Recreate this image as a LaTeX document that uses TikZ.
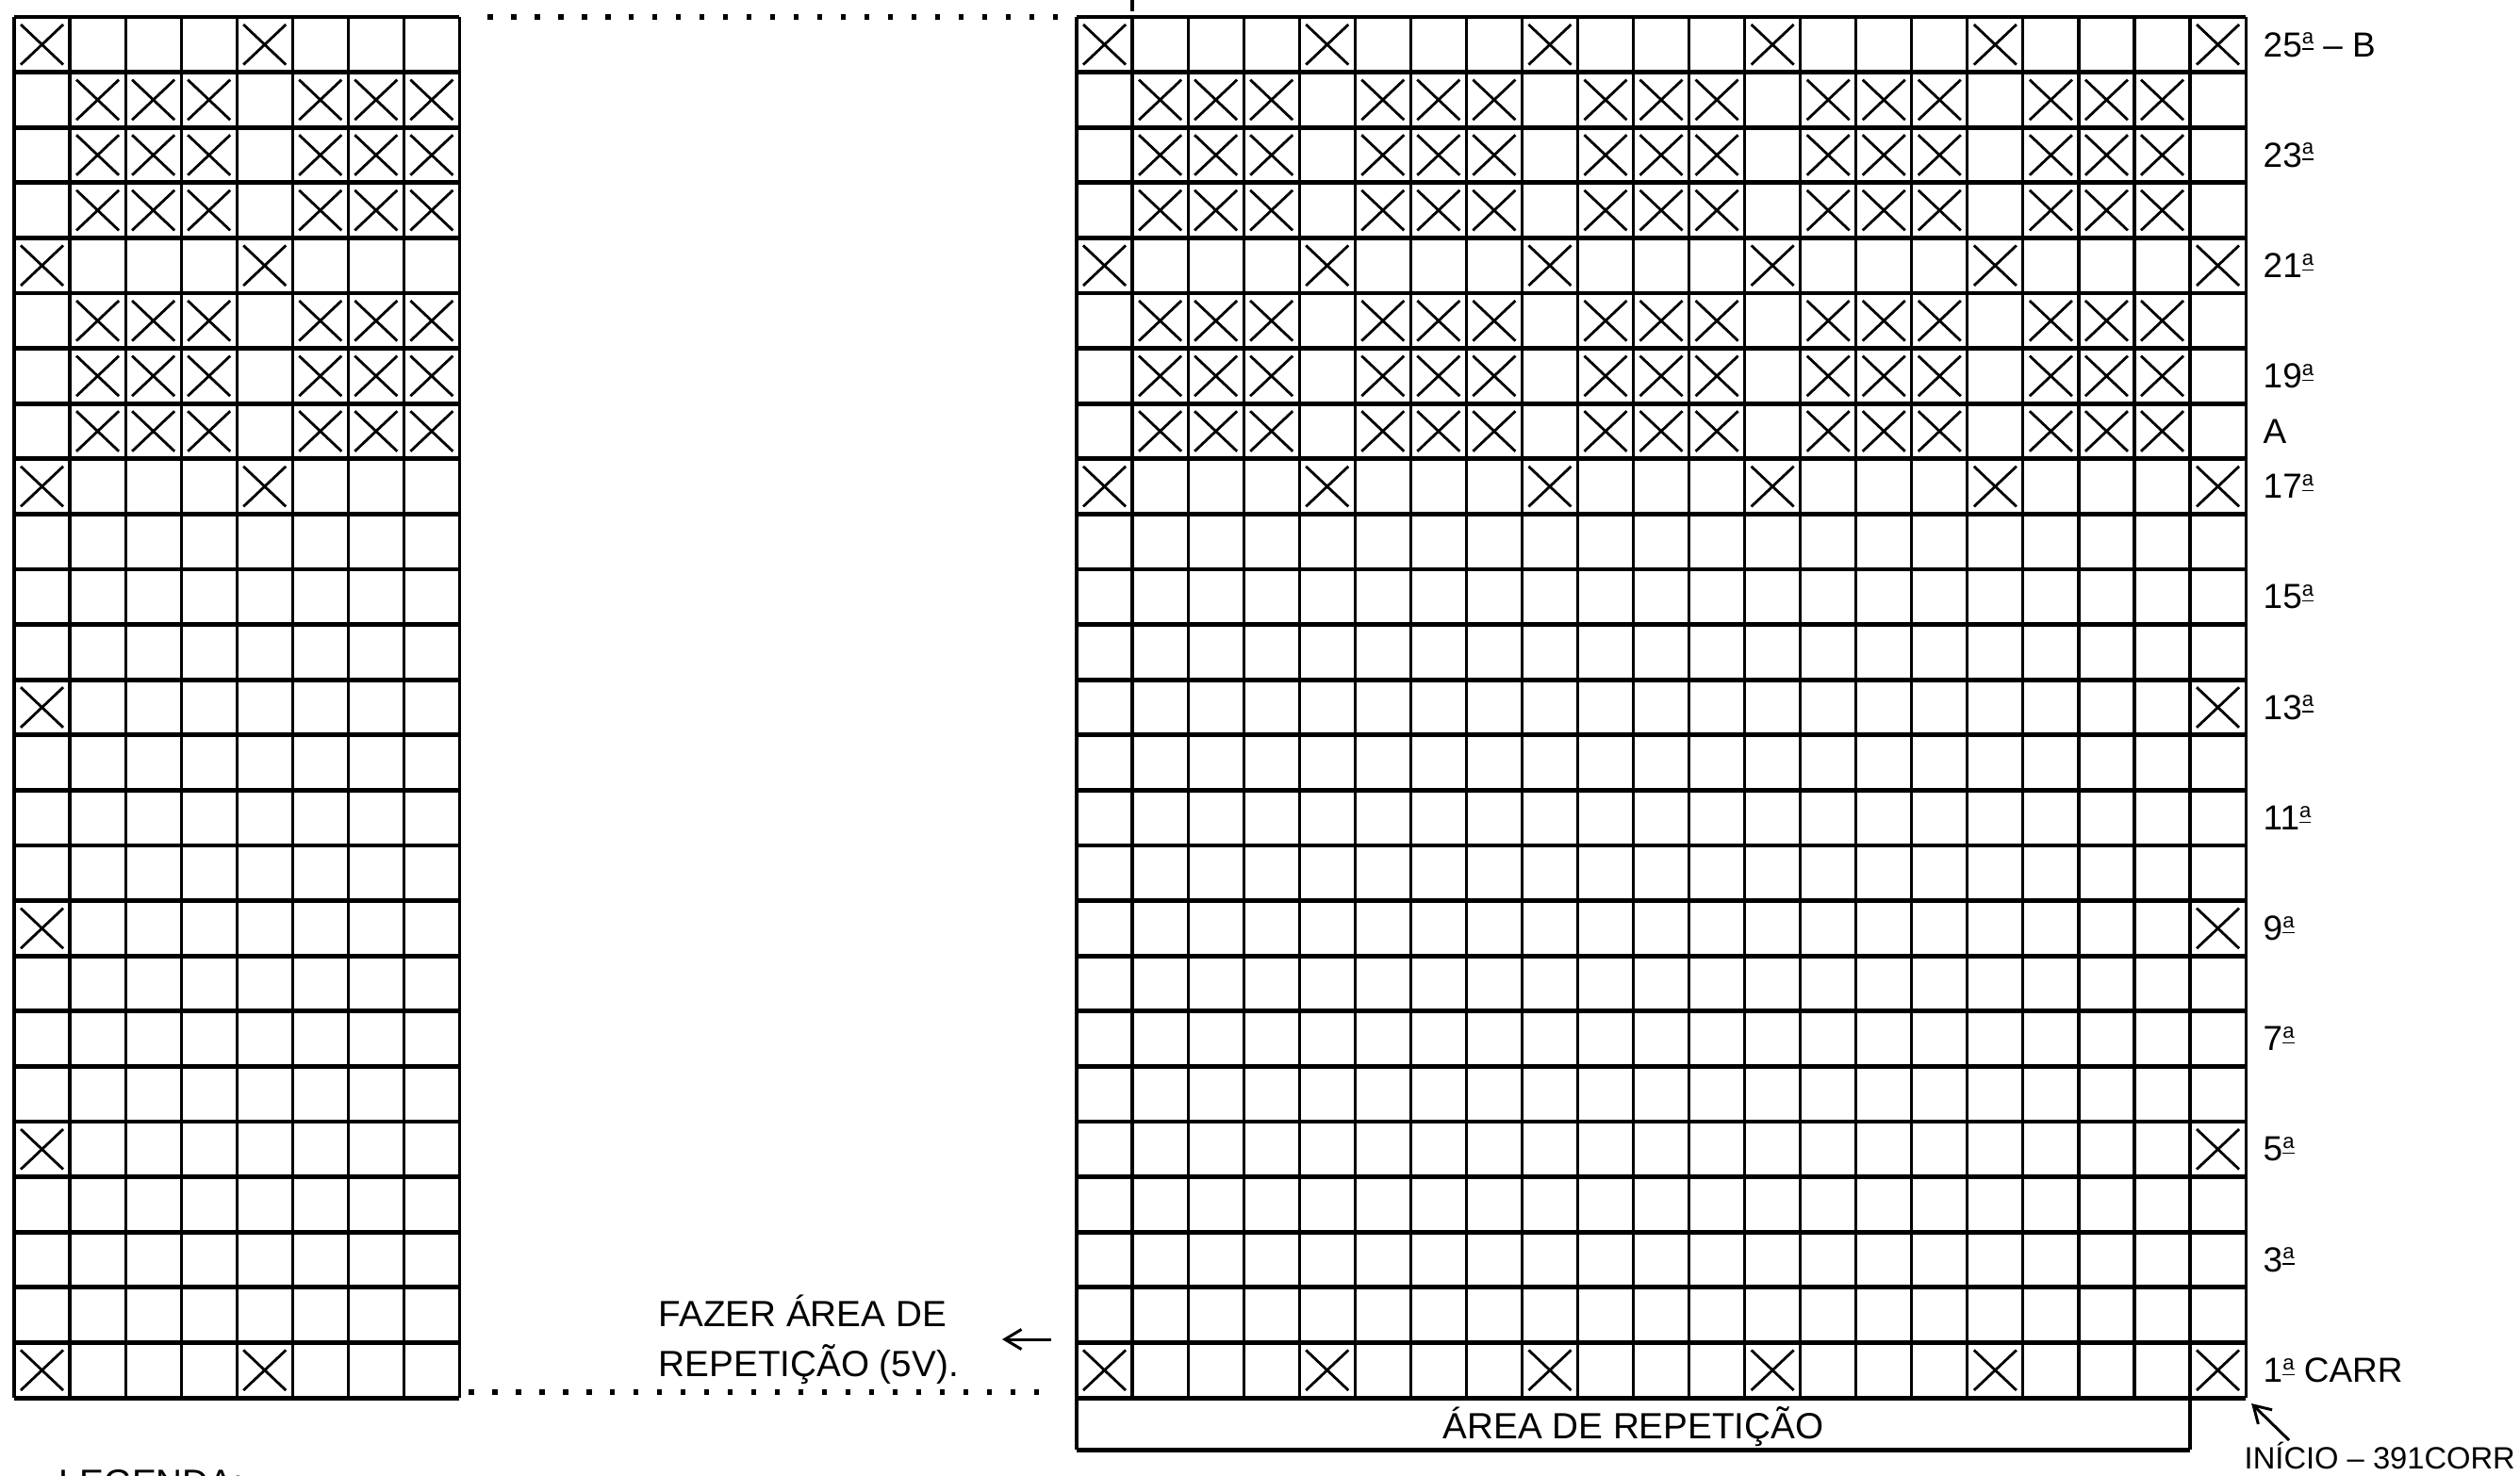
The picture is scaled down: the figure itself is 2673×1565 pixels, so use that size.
\documentclass[tikz,border=0pt]{standalone}
\usepackage{fontspec}
\setmainfont{Liberation Sans}
\usetikzlibrary{arrows.meta}
\usetikzlibrary{math}
\usetikzlibrary{positioning}

\tikzset{
  hline/.style={line width=1.4pt},
  vline/.style={line width=0.9pt},
  cruz/.style={line width=0.8pt},
  pontos/.style={line width=1.5pt, dash pattern=on 1.5pt off 5.6pt},
  rotulo/.style={inner sep=0pt, font=\fontsize{10.5}{12}\selectfont},
  texto/.style={inner sep=0pt, font=\fontsize{11}{15}\selectfont},
  seta/.style={line width=0.85pt, -{Straight Barb[length=5pt,width=6pt,line width=0.85pt]}},
}

% ordinal mark, small a with a bar under it
\newcommand{\ord}{\raisebox{3.8pt}{\fontsize{6.3}{6}\selectfont\underline{a}}}

% X in column #2, row #3 of the grid that starts at x=#1
\newcommand{\marca}[3]{%
  \draw[cruz] ({#1+(#2-1)*\cw+\ix},{\yt+(25-#3)*\rh+\iy}) -- ({#1+#2*\cw-\ix},{\yt+(26-#3)*\rh-\iy})
              ({#1+(#2-1)*\cw+\ix},{\yt+(26-#3)*\rh-\iy}) -- ({#1+#2*\cw-\ix},{\yt+(25-#3)*\rh+\iy});}

\begin{document}
\begin{tikzpicture}[x=0.01cm,y=-0.01cm]
\tikzmath{\cw=59.05; \rh=58.6; \yt=18; \yb=\yt+25*\rh; \xa=15; \xb=1142; \ix=7; \iy=8;}
\useasboundingbox (0,0) rectangle (2673,1565);

% left part of the chart
\foreach \c in {0,...,8} \draw[vline] ({\xa+\c*\cw},\yt) -- ({\xa+\c*\cw},\yb);
\foreach \r in {0,...,25} \draw[hline] (\xa,{\yt+\r*\rh}) -- ({\xa+8*\cw},{\yt+\r*\rh});
\foreach \r in {25,21,17,1} \foreach \c in {1,5} \marca{\xa}{\c}{\r};
\foreach \r in {24,23,22,20,19,18} \foreach \c in {2,3,4,6,7,8} \marca{\xa}{\c}{\r};
\foreach \r in {13,9,5} \marca{\xa}{1}{\r};

% right part of the chart
\foreach \c in {0,...,21} \draw[vline] ({\xb+\c*\cw},\yt) -- ({\xb+\c*\cw},\yb);
\foreach \r in {0,...,25} \draw[hline] (\xb,{\yt+\r*\rh}) -- ({\xb+21*\cw},{\yt+\r*\rh});
\foreach \r in {25,21,17,1} \foreach \c in {1,5,...,21} \marca{\xb}{\c}{\r};
\foreach \r in {24,23,22,20,19,18}
  \foreach \c in {2,3,4,6,7,8,10,11,12,14,15,16,18,19,20} \marca{\xb}{\c}{\r};
\foreach \r in {13,9,5} \marca{\xb}{21}{\r};

\draw[vline] ({\xb+\cw},0) -- ({\xb+\cw},12);

% dotted joins
\draw[pontos] ({\xa+8*\cw+30},\yt) -- ({\xb-15},\yt);
\draw[pontos] ({\xa+8*\cw+10},{\yb-6}) -- ({\xb-25},{\yb-6});

% repeat area
\draw[vline] (\xb,\yb) -- (\xb,1538);
\draw[vline] ({\xb+20*\cw},\yb) -- ({\xb+20*\cw},1538);
\draw[hline] (\xb,1538) -- ({\xb+20*\cw},1538);
\node[texto] (area) at ({\xb+10*\cw},1514) {ÁREA DE REPETIÇÃO};

% row labels
\node[rotulo, anchor=west] (r25) at (2400,{\yt+0.5*\rh}) {25\ord{} – B};
\foreach \r in {23,21,19,17,15,13,11,9,7,5,3}
  \node[rotulo, anchor=west] (r\r) at (2400,{\yt+(25.5-\r)*\rh}) {\r\ord};
\node[rotulo, anchor=west] (rA) at (2400,{\yt+7.5*\rh}) {A};
\node[rotulo, anchor=west] (r1) at (2400,{\yt+24.5*\rh}) {1\ord{} CARR};

\node[rotulo, anchor=base west, font=\fontsize{9.3}{11}\selectfont] (inicio) at (2380,1558) {INÍCIO – 391CORR};
\coordinate (canto) at ({\xb+21*\cw+6},{\yb+6});
\coordinate (cauda) at (2428,1528);
\draw[seta] (cauda) -- (canto);

\node[texto, anchor=west, align=left] (fazer) at (698,1421) {FAZER ÁREA DE\\REPETIÇÃO (5V).};
\coordinate (sa) at (1115,1421);
\coordinate (sb) at (1063,1421);
\draw[seta] (sa) -- (sb);

\node[texto, anchor=base west] (legenda) at (62,1586) {LEGENDA:};

\end{tikzpicture}
\end{document}
